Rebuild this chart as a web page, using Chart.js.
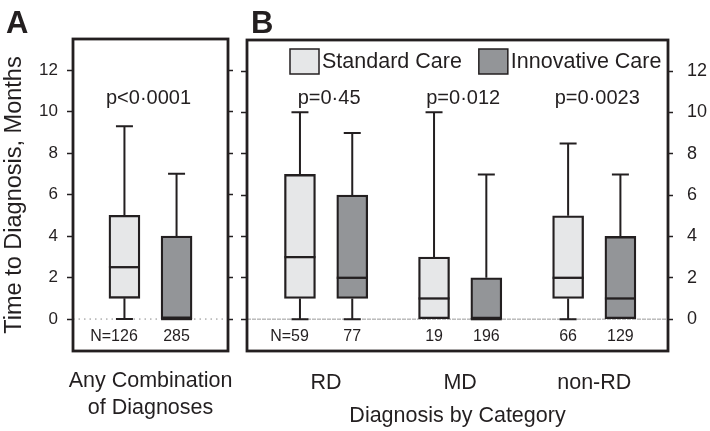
<!DOCTYPE html>
<html>
<head>
<meta charset="utf-8">
<script src="https://cdn.jsdelivr.net/npm/chart.js@4/dist/chart.umd.min.js"></script>
<style>
  body { margin: 0; background: #fff; }
  #wrap { position: relative; width: 710px; height: 431px; }
  #wrap canvas { position: absolute; top: 0; }
  .panel { position: absolute; font: bold 31px "Liberation Sans", Arial, sans-serif; color: #231f20; }
</style>
</head>
<body>
<div id="wrap">
  <canvas id="chartA" width="240" height="431" style="left:0"></canvas>
  <canvas id="chartB" width="470" height="431" style="left:240px"></canvas>
  <div class="panel" style="left:6px;top:5px">A</div>
  <div class="panel" style="left:251px;top:5px">B</div>
</div>
<script>
// -- DATA --
const seriesNames = ["Standard Care", "Innovative Care"];

// Panel A: any combination of diagnoses
const labelA = ["Any Combination", "of Diagnoses"];
const pValueA = ["p<0·0001"];
const stdA = { min: [0], q1: [1], med: [2.5], q3: [5], max: [9.3], n: [126] };
const innA = { min: [0], q1: [0], med: [0], q3: [4], max: [7], n: [285] };

// Panel B: diagnosis by category
const categoriesB = ["RD", "MD", "non-RD"];
const pValuesB = ["p=0·45", "p=0·012", "p=0·0023"];
const stdB = { min: [0, 0, 0], q1: [1, 0, 1], med: [3, 1, 2], q3: [7, 3, 5], max: [10, 10, 8.5], n: [59, 19, 66] };
const innB = { min: [0, 0, 0], q1: [1, 0, 0], med: [2, 0, 1], q3: [6, 2, 4], max: [9, 7, 7], n: [77, 196, 129] };

const yTicks = [0, 2, 4, 6, 8, 10, 12];

// -- STYLE --
const INK = "#231f20";
const FILL_STD = "#e6e7e8";
const FILL_INN = "#939598";
const FONT = '"Liberation Sans", Arial, sans-serif';
const BOX_OFFSET = 0.195;
const Y_MIN = -1.54, Y_MAX = 13.5;

Chart.defaults.font.family = FONT;
Chart.defaults.color = INK;

function boxDataset(label, stats, fill, offset) {
  return {
    label: label,
    data: stats.q1.map((q1, i) => ({ x: i + 1 + offset, y: [q1, stats.q3[i]] })),
    stats: stats,
    backgroundColor: fill,
    borderColor: INK,
    borderWidth: 2.3,
    borderSkipped: false,
    barThickness: 31,
    grouped: false
  };
}

// whiskers, medians, frame and text annotations
const boxPlot = {
  id: "boxPlot",
  beforeDatasetsDraw(chart, args, opts) {
    const { ctx, chartArea: a, scales: { y } } = chart;
    const y0 = y.getPixelForValue(0);
    ctx.save();
    ctx.strokeStyle = opts.zeroColor;
    ctx.lineWidth = 1;
    ctx.setLineDash(opts.zeroDash);
    ctx.beginPath();
    ctx.moveTo(a.left, y0);
    ctx.lineTo(a.right, y0);
    ctx.stroke();
    ctx.setLineDash([]);

    ctx.strokeStyle = INK;
    ctx.lineWidth = 2;
    chart.data.datasets.forEach((ds, di) => {
      const meta = chart.getDatasetMeta(di);
      meta.data.forEach((bar, i) => {
        const s = ds.stats;
        const cx = bar.x;
        const cap = 8.5;
        const seg = (from, to) => {
          if (to === from) return;
          const p1 = y.getPixelForValue(from), p2 = y.getPixelForValue(to);
          ctx.beginPath();
          ctx.moveTo(cx, p1); ctx.lineTo(cx, p2);
          ctx.moveTo(cx - cap, p2); ctx.lineTo(cx + cap, p2);
          ctx.stroke();
        };
        seg(s.q3[i], s.max[i]);
        seg(s.q1[i], s.min[i]);
      });
    });
    ctx.restore();
  },
  afterDatasetsDraw(chart, args, opts) {
    const { ctx, chartArea: a, scales: { x, y } } = chart;
    ctx.save();
    ctx.strokeStyle = INK;
    ctx.fillStyle = INK;
    ctx.lineWidth = 2.3;
    chart.data.datasets.forEach((ds, di) => {
      const meta = chart.getDatasetMeta(di);
      meta.data.forEach((bar, i) => {
        const py = y.getPixelForValue(ds.stats.med[i]);
        const hw = bar.width / 2;
        ctx.beginPath();
        ctx.moveTo(bar.x - hw, py);
        ctx.lineTo(bar.x + hw, py);
        ctx.stroke();

        // sample sizes
        ctx.font = "16px " + FONT;
        ctx.textBaseline = "middle";
        const num = String(ds.stats.n[i]);
        const ny = y.getPixelForValue(-0.85);
        ctx.textAlign = "center";
        ctx.fillText(num, bar.x, ny);
        if (di === 0 && i === 0) {
          ctx.textAlign = "right";
          ctx.fillText("N=", bar.x - ctx.measureText(num).width / 2, ny);
        }
      });
    });

    // p values
    ctx.font = "20px " + FONT;
    ctx.textAlign = "center";
    ctx.textBaseline = "middle";
    opts.pValues.forEach((p, i) => {
      ctx.fillText(p, x.getPixelForValue(i + 1) + opts.pShift, y.getPixelForValue(10.65));
    });

    // legend
    if (opts.legend) {
      ctx.font = "21.5px " + FONT;
      ctx.textAlign = "left";
      let lx = a.left + 43;
      const ly = a.top + 9;
      chart.data.datasets.forEach(ds => {
        ctx.fillStyle = ds.backgroundColor;
        ctx.fillRect(lx, ly, 29, 25);
        ctx.lineWidth = 1.5;
        ctx.strokeRect(lx, ly, 29, 25);
        ctx.fillStyle = INK;
        ctx.fillText(ds.label, lx + 32, ly + 13);
        lx += 32 + ctx.measureText(ds.label).width + 17;
      });
    }

    // frame
    ctx.lineWidth = 2.8;
    ctx.strokeRect(a.left, a.top, a.right - a.left, a.bottom - a.top);
    ctx.restore();
  }
};

function yAxis(position, width, showLabels, tickLength, title, fontSize, padding) {
  return {
    type: "linear",
    position: position,
    min: Y_MIN,
    max: Y_MAX,
    afterBuildTicks: (s) => { s.ticks = yTicks.map(v => ({ value: v })); },
    afterFit: (s) => { s.width = width; s.paddingTop = 0; s.paddingBottom = 0; },
    grid: { drawOnChartArea: false, tickLength: tickLength, tickWidth: 1.5, tickColor: INK },
    border: { display: false },
    ticks: { display: showLabels, padding: padding || 9, font: { size: fontSize || 17 }, color: INK },
    title: title
  };
}

function xAxis(labels, padding, title, min, max) {
  return {
    type: "linear",
    min: min,
    max: max,
    offset: false,
    afterBuildTicks: (s) => { s.ticks = labels.map((l, i) => ({ value: i + 1 })); },
    afterFit: (s) => { s.height = 80; s.paddingLeft = 0; s.paddingRight = 0; },
    grid: { display: false },
    border: { display: false },
    ticks: {
      padding: padding,
      maxRotation: 0,
      autoSkip: false,
      font: { size: 21.5, lineHeight: 1.27 },
      color: INK,
      callback: (v) => labels[Math.round(v) - 1]
    },
    title: title
  };
}

new Chart(document.getElementById("chartA"), {
  type: "bar",
  data: {
    datasets: [
      boxDataset(seriesNames[0], stdA, FILL_STD, -BOX_OFFSET),
      boxDataset(seriesNames[1], innA, FILL_INN, BOX_OFFSET)
    ]
  },
  options: {
    responsive: false,
    animation: false,
    layout: { padding: { top: 39, left: 0, right: 0, bottom: 0 } },
    plugins: {
      legend: { display: false },
      tooltip: { enabled: false },
      boxPlot: { pValues: pValueA, pShift: -2, legend: false, zeroColor: "#888", zeroDash: [1.5, 4] }
    },
    scales: {
      x: xAxis([labelA], 8, { display: false }, 0.42, 1.58),
      y: yAxis("left", 73, true, 6, {
        display: true, text: "Time to Diagnosis, Months", font: { size: 23.5 }, color: INK, padding: { top: 0 }
      }),
      yr: yAxis("right", 12, false, 5, { display: false })
    }
  },
  plugins: [boxPlot]
});

new Chart(document.getElementById("chartB"), {
  type: "bar",
  data: {
    datasets: [
      boxDataset(seriesNames[0], stdB, FILL_STD, -BOX_OFFSET),
      boxDataset(seriesNames[1], innB, FILL_INN, BOX_OFFSET)
    ]
  },
  options: {
    responsive: false,
    animation: false,
    layout: { padding: { top: 40, left: 0, right: 0, bottom: 0 } },
    plugins: {
      legend: { display: false },
      tooltip: { enabled: false },
      boxPlot: { pValues: pValuesB, pShift: 3, legend: true, zeroColor: "#999", zeroDash: [4, 1] }
    },
    scales: {
      x: xAxis(categoriesB, 10, {
        display: true, text: "Diagnosis by Category", font: { size: 21.5 }, color: INK, padding: { bottom: 2 }
      }, 0.41, 3.55),
      y: yAxis("right", 42, true, 5, { display: false }, 18, 14),
      yl: yAxis("left", 7, false, 6, { display: false })
    }
  },
  plugins: [boxPlot]
});
</script>
</body>
</html>
